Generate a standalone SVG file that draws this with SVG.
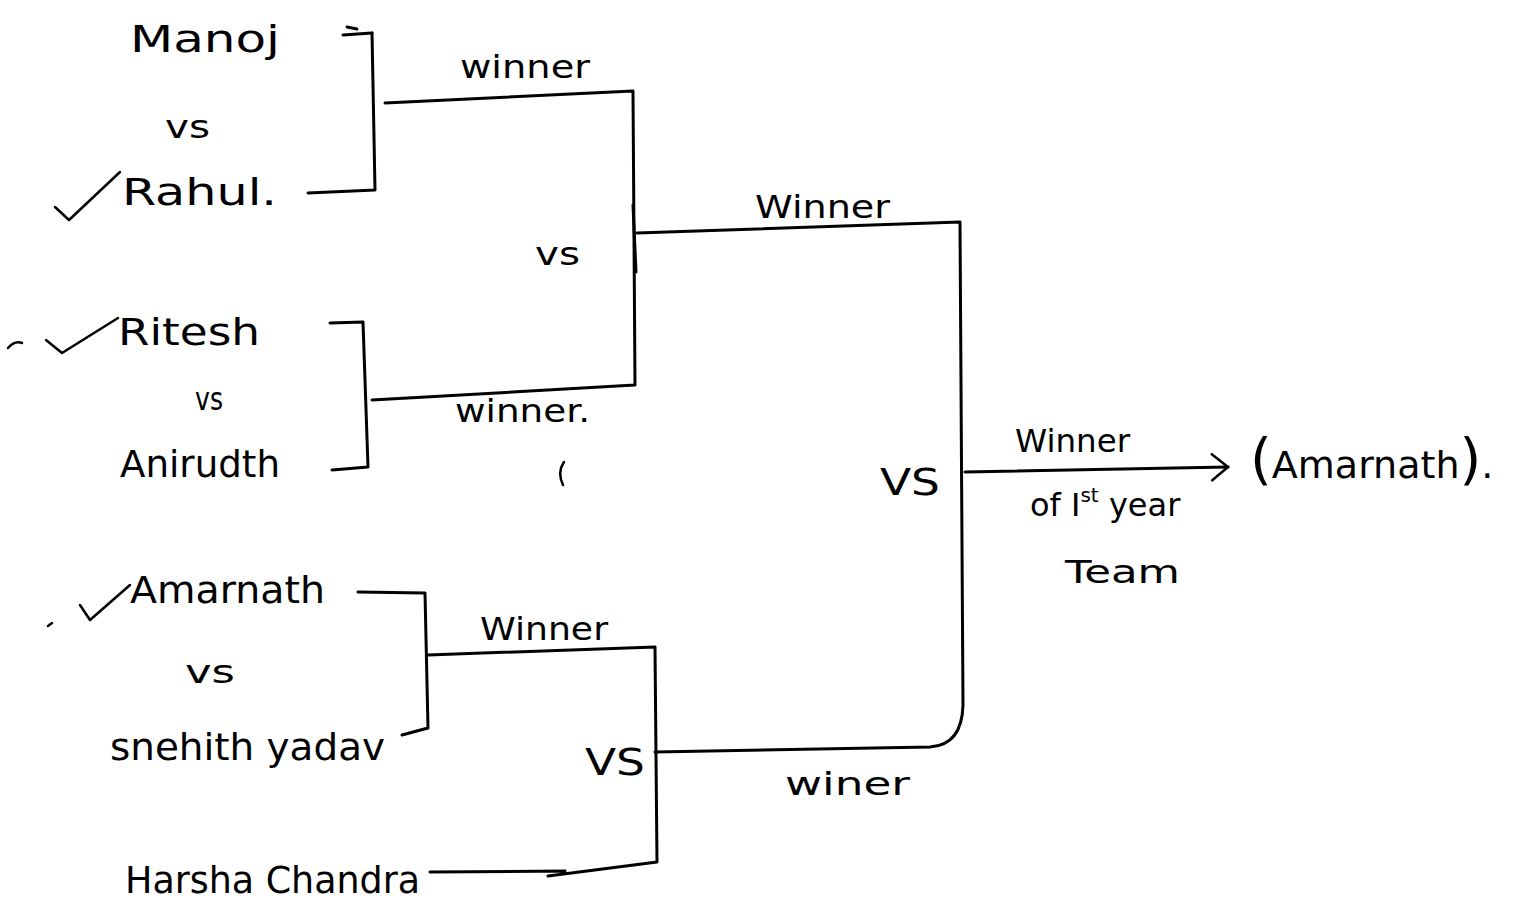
<svg xmlns="http://www.w3.org/2000/svg" width="1514" height="909" viewBox="0 0 1514 909">
<style>
.t{font-family:"DejaVu Sans","Liberation Sans",sans-serif;fill:#000;font-weight:normal}
.n{font-size:38px}
.s{font-size:32px}
.l{fill:none;stroke:#000;stroke-width:3;stroke-linecap:round;stroke-linejoin:round}
.c{fill:none;stroke:#000;stroke-width:2.5;stroke-linecap:round;stroke-linejoin:round}
</style>
<defs>
<marker id="chev" viewBox="0 0 20 30" refX="18" refY="15" markerWidth="20" markerHeight="30" markerUnits="userSpaceOnUse" orient="auto">
<path d="M2,2 L18,15 L2,28" fill="none" stroke="#000" stroke-width="2.5" stroke-linecap="round"/>
</marker>
</defs>
<rect width="1514" height="909" fill="#fff"/>
<g id="connectors">
<path class="l" d="M343,35 L372,33 M347,27 L357,29"/>
<path class="l" d="M372,33 L375,190 L308,193"/>
<path class="l" d="M385,103 L633,91 L635,385 L372,400"/>
<path class="l" d="M330,323 L363,322 L368,467 L332,470"/>
<path class="l" stroke-width="4" d="M633,205 L636,272"/>
<path class="l" d="M637,233 L960,222 L963,705 Q962,745 930,747 L655,752"/>
<path class="l" d="M358,592 L425,593 L428,728 L402,735"/>
<path class="l" d="M428,655 L655,647 L657,862 L548,876 M565,871 L430,872"/>
<path class="l" d="M965,472 L1228,467" marker-end="url(#chev)"/>
<path class="c" d="M564,462 Q557,472 563,485"/>
</g>
<g id="manoj"><text class="t n" x="130" y="52" textLength="150" lengthAdjust="spacingAndGlyphs">Manoj</text></g>
<g id="vs1"><text class="t s" x="165" y="138" textLength="45" lengthAdjust="spacingAndGlyphs">vs</text></g>
<g id="rahul"><path class="c" d="M55,207 L69,220 L120,172"/><text class="t n" x="122" y="205" textLength="155" lengthAdjust="spacingAndGlyphs">Rahul.</text></g>
<g id="ritesh"><path class="c" d="M8,348 Q15,340 22,343 M46,340 L62,353 L118,318"/><text class="t n" x="118" y="345" textLength="142" lengthAdjust="spacingAndGlyphs">Ritesh</text></g>
<g id="vs2"><text class="t s" x="195" y="410" textLength="28" lengthAdjust="spacingAndGlyphs">vs</text></g>
<g id="anirudth"><text class="t n" x="120" y="477" textLength="160" lengthAdjust="spacingAndGlyphs">Anirudth</text></g>
<g id="winner1"><text class="t s" x="460" y="78" textLength="130" lengthAdjust="spacingAndGlyphs">winner</text></g>
<g id="winner2"><text class="t s" x="455" y="422" textLength="135" lengthAdjust="spacingAndGlyphs">winner.</text></g>
<g id="vs3"><text class="t s" x="535" y="265" textLength="45" lengthAdjust="spacingAndGlyphs">vs</text></g>
<g id="winner3"><text class="t s" x="755" y="218" textLength="135" lengthAdjust="spacingAndGlyphs">Winner</text></g>
<g id="vsfinal"><text class="t n" x="880" y="495" textLength="60" lengthAdjust="spacingAndGlyphs">VS</text></g>
<g id="winnerfinal">
<text class="t s" x="1015" y="452" textLength="115" lengthAdjust="spacingAndGlyphs">Winner</text>
<text class="t s" x="1030" y="516">of I<tspan font-size="20" dy="-14">st</tspan><tspan dy="14"> year</tspan></text>
<text class="t s" x="1065" y="583" textLength="115" lengthAdjust="spacingAndGlyphs">Team</text>
</g>
<g id="champion"><text class="t n" x="1250" y="478"><tspan font-size="56">(</tspan>Amarnath<tspan font-size="56">)</tspan>.</text></g>
<g id="amarnath"><path class="c" d="M80,605 L90,620 L130,585 M48,626 L52,623"/><text class="t n" x="130" y="603" textLength="195" lengthAdjust="spacingAndGlyphs">Amarnath</text></g>
<g id="vs4"><text class="t s" x="185" y="683" textLength="50" lengthAdjust="spacingAndGlyphs">vs</text></g>
<g id="snehith"><text class="t n" x="110" y="760" textLength="275" lengthAdjust="spacingAndGlyphs">snehith yadav</text></g>
<g id="winner4"><text class="t s" x="480" y="640" textLength="128" lengthAdjust="spacingAndGlyphs">Winner</text></g>
<g id="vs5"><text class="t n" x="585" y="775" textLength="60" lengthAdjust="spacingAndGlyphs">VS</text></g>
<g id="winer"><text class="t s" x="785" y="795" textLength="125" lengthAdjust="spacingAndGlyphs">winer</text></g>
<g id="harsha"><text class="t n" x="125" y="893" textLength="295" lengthAdjust="spacingAndGlyphs">Harsha Chandra</text></g>
</svg>
